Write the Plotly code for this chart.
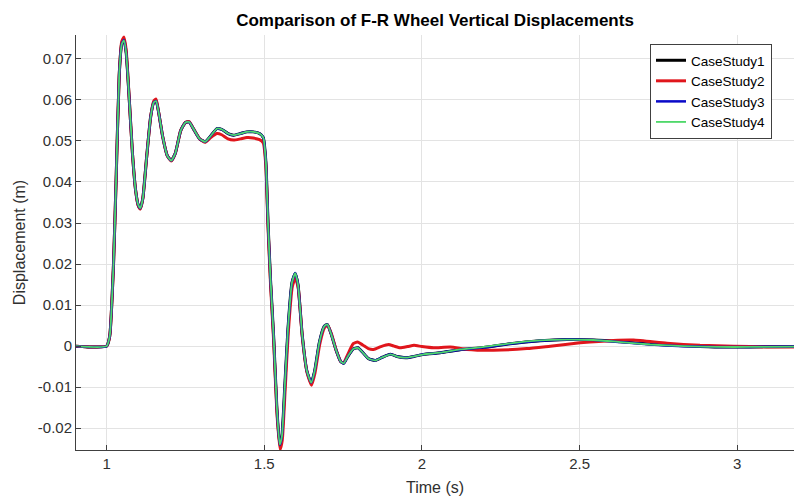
import plotly.graph_objects as go

# ---------------- data ----------------
t_cs4 = [0.903, 1.000, 1.010, 1.022, 1.030, 1.040, 1.048, 1.055, 1.062, 1.072, 1.082, 1.092,
         1.100, 1.107, 1.115, 1.127, 1.140, 1.150, 1.157, 1.165, 1.178, 1.192, 1.205, 1.218,
         1.235, 1.250, 1.262, 1.275, 1.295, 1.313, 1.330, 1.350, 1.365, 1.385, 1.403, 1.425,
         1.445, 1.465, 1.485, 1.497, 1.505, 1.512, 1.520, 1.530, 1.540, 1.549, 1.556, 1.565,
         1.575, 1.588, 1.598, 1.607, 1.620, 1.635, 1.649, 1.660, 1.675, 1.690, 1.700, 1.712,
         1.728, 1.742, 1.752, 1.765, 1.782, 1.797, 1.812, 1.830, 1.852, 1.875, 1.900, 1.925,
         1.950, 1.975, 2.005, 2.058, 2.121, 2.196, 2.280, 2.375, 2.460, 2.544, 2.629, 2.724,
         2.830, 2.935, 3.040, 3.180]
y_cs4 = [0, 0, 0.0025, 0.020, 0.040, 0.066, 0.0735, 0.0745, 0.0715, 0.060, 0.047, 0.038,
         0.0345, 0.0336, 0.036, 0.046, 0.056, 0.0594, 0.0597, 0.057, 0.051, 0.0465, 0.0452, 0.047,
         0.0525, 0.0545, 0.0546, 0.053, 0.0505, 0.0498, 0.0512, 0.0530, 0.0528, 0.0518, 0.0514, 0.0518,
         0.0522, 0.0522, 0.0518, 0.0508, 0.045, 0.030, 0.016, 0.002, -0.015, -0.0240, -0.022, -0.010,
         0.004, 0.0155, 0.0178, 0.015, 0.003, -0.006, -0.0089, -0.006, 0.001, 0.0048, 0.0053, 0.003,
         -0.001, -0.0037, -0.0042, -0.0025, -0.0007, -0.0004, -0.0015, -0.0030, -0.0035, -0.0027, -0.0020, -0.0026,
         -0.0028, -0.0025, -0.0020, -0.0016, -0.0008, -0.0002, 0.0007, 0.0014, 0.0016, 0.0015, 0.0010, 0.0004,
         0.0, -0.0002, -0.0002, -0.0001]

t_cs1 = list(t_cs4)
y_cs1 = [0, 0, 0.0025, 0.020, 0.040, 0.066, 0.0737, 0.0747, 0.0716, 0.060, 0.047, 0.038,
         0.0344, 0.0335, 0.036, 0.046, 0.056, 0.0595, 0.0598, 0.057, 0.051, 0.0465, 0.0452, 0.047,
         0.0525, 0.0545, 0.0546, 0.053, 0.0505, 0.0498, 0.0512, 0.0530, 0.0528, 0.0518, 0.0514, 0.0518,
         0.0522, 0.0522, 0.0518, 0.0508, 0.045, 0.030, 0.016, 0.002, -0.015, -0.0242, -0.022, -0.010,
         0.004, 0.0155, 0.0177, 0.015, 0.003, -0.006, -0.0090, -0.006, 0.001, 0.0048, 0.0053, 0.003,
         -0.001, -0.0037, -0.0042, -0.0025, -0.0007, -0.0004, -0.0015, -0.0030, -0.0035, -0.0027, -0.0020, -0.0026,
         -0.0028, -0.0025, -0.0020, -0.0016, -0.0009, -0.0003, 0.0006, 0.0013, 0.0016, 0.0015, 0.0011, 0.0005,
         0.0001, -0.0002, -0.0002, -0.0001]

t_cs3 = list(t_cs4)
y_cs3 = [0, 0, 0.0025, 0.020, 0.040, 0.066, 0.0736, 0.0746, 0.0715, 0.060, 0.047, 0.038,
         0.0345, 0.0336, 0.036, 0.046, 0.056, 0.0594, 0.0597, 0.057, 0.051, 0.0465, 0.0452, 0.047,
         0.0525, 0.0545, 0.0546, 0.053, 0.0505, 0.0498, 0.0512, 0.0530, 0.0528, 0.0518, 0.0514, 0.0518,
         0.0522, 0.0522, 0.0518, 0.0508, 0.045, 0.030, 0.016, 0.002, -0.015, -0.0241, -0.022, -0.010,
         0.004, 0.0155, 0.0178, 0.015, 0.003, -0.006, -0.0089, -0.006, 0.001, 0.0048, 0.0053, 0.003,
         -0.001, -0.0037, -0.0042, -0.0025, -0.0007, -0.0004, -0.0015, -0.0030, -0.0035, -0.0027, -0.0020, -0.0026,
         -0.0028, -0.0025, -0.0020, -0.0016, -0.0009, -0.0003, 0.0006, 0.0013, 0.0016, 0.0015, 0.0010, 0.0004,
         0.0, -0.0002, -0.0002, -0.0001]

t_cs2 = [0.903, 1.000, 1.010, 1.022, 1.030, 1.040, 1.048, 1.055, 1.062, 1.072, 1.082, 1.092,
         1.100, 1.107, 1.115, 1.127, 1.140, 1.150, 1.157, 1.165, 1.178, 1.192, 1.205, 1.218,
         1.235, 1.250, 1.262, 1.275, 1.295, 1.313, 1.330, 1.350, 1.365, 1.385, 1.403, 1.425,
         1.445, 1.465, 1.485, 1.497, 1.505, 1.512, 1.520, 1.530, 1.540, 1.550, 1.557, 1.566,
         1.576, 1.589, 1.599, 1.608, 1.621, 1.636, 1.650, 1.661, 1.676, 1.691, 1.701, 1.713,
         1.729, 1.743, 1.752, 1.765, 1.782, 1.796, 1.812, 1.830, 1.847, 1.870, 1.894, 1.912,
         1.931, 1.955, 1.975, 2.000, 2.037, 2.090, 2.143, 2.227, 2.333, 2.407, 2.502, 2.607,
         2.671, 2.777, 2.882, 2.988, 3.094, 3.180]
y_cs2 = [0, 0, 0.0025, 0.020, 0.040, 0.066, 0.0742, 0.0753, 0.0722, 0.060, 0.047, 0.038,
         0.0343, 0.0334, 0.036, 0.046, 0.056, 0.0598, 0.0602, 0.057, 0.051, 0.0465, 0.0451, 0.047,
         0.0525, 0.0545, 0.0547, 0.053, 0.0505, 0.0497, 0.0508, 0.0518, 0.0515, 0.0505, 0.0502, 0.0505,
         0.0508, 0.0507, 0.0503, 0.0495, 0.044, 0.029, 0.015, 0.001, -0.016, -0.0252, -0.023, -0.011,
         0.003, 0.0145, 0.0166, 0.014, 0.002, -0.0065, -0.0095, -0.0065, 0.0005, 0.0045, 0.0051, 0.003,
         -0.0012, -0.0038, -0.0040, -0.0020, 0.0006, 0.0010, 0.0003, -0.0006, -0.0008, -0.0001, 0.0004, 0.0,
         -0.0004, -0.0001, 0.0002, -0.0001, -0.0004, -0.0002, -0.0008, -0.0010, -0.0006, 0.0, 0.0008, 0.0014,
         0.0015, 0.0007, 0.0002, 0.0, -0.0002, -0.0002]

names = ["CaseStudy1", "CaseStudy2", "CaseStudy3", "CaseStudy4"]
colors = ["#000000", "#e0161c", "#0a0ac8", "#4fd86a"]

x_ticks = [1, 1.5, 2, 2.5, 3]
x_ticklabels = ["1", "1.5", "2", "2.5", "3"]
y_ticks = [-0.02, -0.01, 0, 0.01, 0.02, 0.03, 0.04, 0.05, 0.06, 0.07]
y_ticklabels = ["-0.02", "-0.01", "0", "0.01", "0.02", "0.03", "0.04", "0.05", "0.06", "0.07"]

series = [(t_cs1, y_cs1), (t_cs2, y_cs2), (t_cs3, y_cs3), (t_cs4, y_cs4)]
widths = [3, 3, 2.5, 1.8]

FONT = "Liberation Sans, Arial, sans-serif"

fig = go.Figure()
for (t, y), n, c, w in zip(series, names, colors, widths):
    fig.add_trace(go.Scatter(x=t, y=y, mode="lines", name=n,
                             line=dict(color=c, width=w, shape="spline", smoothing=0.5)))

axis_common = dict(
    showgrid=True, gridcolor="#e3e3e3", gridwidth=1,
    showline=True, linecolor="#404040", linewidth=1,
    ticks="inside", ticklen=5, tickcolor="#404040",
    zeroline=False, mirror=False,
    tickfont=dict(family=FONT, size=15, color="#303030"),
)

fig.update_layout(
    width=794, height=501,
    margin=dict(l=76, r=0, t=35, b=51),
    paper_bgcolor="white", plot_bgcolor="white",
    title=dict(text="<b>Comparison of F-R Wheel Vertical Displacements</b>",
               x=(76 + 794) / 2 / 794, xanchor="center", y=1 - 20 / 501, yanchor="middle",
               font=dict(family=FONT, size=17, color="#000000")),
    xaxis=dict(range=[0.903, 3.18], tickvals=x_ticks, ticktext=x_ticklabels,
               title=dict(text="Time (s)", standoff=10,
                          font=dict(family=FONT, size=16, color="#303030")),
               **axis_common),
    yaxis=dict(range=[-0.0253, 0.0758], tickvals=y_ticks, ticktext=y_ticklabels,
               title=dict(text="Displacement (m)", standoff=8,
                          font=dict(family=FONT, size=16, color="#303030")),
               **axis_common),
    legend=dict(x=(650 - 76) / 718, y=(450 - 44) / 415, xanchor="left", yanchor="top",
                bgcolor="white", bordercolor="#404040", borderwidth=1,
                font=dict(family=FONT, size=13.5, color="#000000"),
                tracegroupgap=0, itemwidth=30),
    showlegend=True,
)

fig.write_html("out.html")
